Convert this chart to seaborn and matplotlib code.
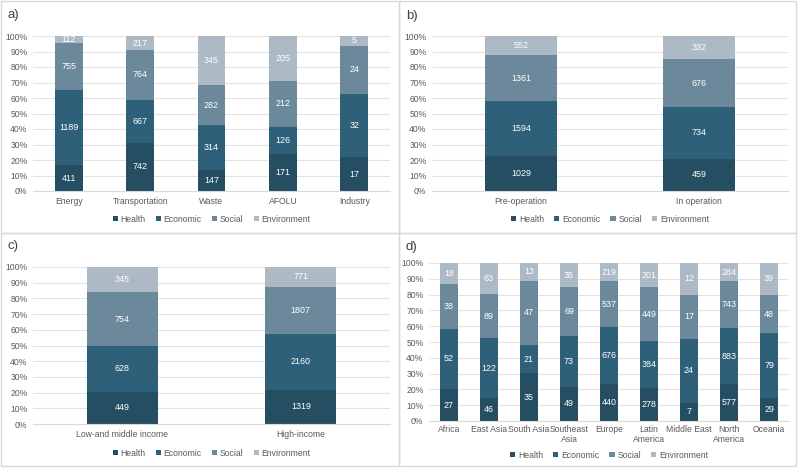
import numpy as np
import pandas as pd
import matplotlib
matplotlib.use("Agg")
import matplotlib.pyplot as plt
from matplotlib.patches import Rectangle, Patch
from matplotlib.ticker import PercentFormatter
import seaborn as sns

sns.set_theme(style="white")
plt.rcParams['font.family'] = ['Liberation Sans', 'DejaVu Sans']

# ---- data ----
dims = ["Health", "Economic", "Social", "Environment"]
colors = ["#264e63", "#2e6079", "#6c899b", "#adbac5"]

cats_a = ["Energy", "Transportation", "Waste", "AFOLU", "Industry"]
health_a = [411, 742, 147, 171, 17]
econ_a = [1189, 667, 314, 126, 32]
social_a = [755, 764, 282, 212, 24]
env_a = [112, 217, 345, 205, 5]

cats_b = ["Pre-operation", "In operation"]
health_b = [1029, 459]
econ_b = [1594, 734]
social_b = [1361, 676]
env_b = [552, 332]

cats_c = ["Low-and middle income", "High-income"]
health_c = [449, 1319]
econ_c = [628, 2160]
social_c = [754, 1807]
env_c = [345, 771]

cats_d = ["Africa", "East Asia", "South Asia", "Southeast\nAsia", "Europe",
          "Latin\nAmerica", "Middle East", "North\nAmerica", "Oceania"]
health_d = [27, 46, 35, 49, 440, 278, 7, 577, 29]
econ_d = [52, 122, 21, 73, 676, 384, 24, 883, 79]
social_d = [38, 89, 47, 69, 537, 449, 17, 743, 48]
env_d = [18, 63, 13, 35, 219, 201, 12, 284, 39]

W, H = 800, 470
fig = plt.figure(figsize=(W / 100, H / 100), dpi=100)

TXT = "#595959"
FS = 6.2


def fx(px):
    return px / W


def fy(py):
    return 1 - py / H


def make_ax(l, t, r, b):
    return fig.add_axes([fx(l), fy(b), fx(r - l), fy(t) - fy(b)])


def draw_panel(ax, cats, series, width, legend_y):
    df = pd.DataFrame({d: s for d, s in zip(dims, series)}, index=cats)
    totals = df.sum(axis=1)
    pct = df.div(totals, axis=0) * 100
    bottom = np.zeros(len(cats))
    for d, c in zip(dims, colors):
        sub = pd.DataFrame({"cat": cats, "pct": pct[d].values})
        sns.barplot(data=sub, x="cat", y="pct", order=cats, color=c,
                    width=width, errorbar=None, ax=ax, bottom=bottom.copy(),
                    saturation=1, linewidth=0, label=d)
        ax.bar_label(ax.containers[-1], labels=[str(v) for v in df[d].values],
                     label_type="center", color="white", fontsize=FS + 0.2)
        bottom = bottom + pct[d].values
    ax.set_ylim(0, 100)
    ax.set_xlim(-0.5, len(cats) - 0.5)
    ax.set_yticks(np.arange(0, 101, 10))
    ax.yaxis.set_major_formatter(PercentFormatter(decimals=0))
    ax.grid(axis="y", color="#e3e3e3", linewidth=0.8)
    ax.set_axisbelow(True)
    for s in ["top", "right", "left"]:
        ax.spines[s].set_visible(False)
    ax.spines["bottom"].set_color("#d9d9d9")
    ax.spines["bottom"].set_linewidth(0.8)
    ax.tick_params(axis="both", length=0, labelsize=FS, colors=TXT, pad=4)
    ax.set_xlabel("")
    ax.set_ylabel("")
    handles = [Patch(facecolor=c, edgecolor="none") for c in colors]
    ax.legend(handles, dims, loc="center", bbox_to_anchor=(0.5, legend_y),
              ncol=4, frameon=False, fontsize=FS, handlelength=0.6,
              handleheight=0.6, handletextpad=0.3, columnspacing=1.2,
              labelcolor=TXT, borderaxespad=0)


ax_a = make_ax(33, 36, 390, 191)
draw_panel(ax_a, cats_a, [health_a, econ_a, social_a, env_a], 0.39,
           -(219 - 191) / (191 - 36))
ax_b = make_ax(432, 36, 788, 191)
draw_panel(ax_b, cats_b, [health_b, econ_b, social_b, env_b], 0.40,
           -(219 - 191) / (191 - 36))
ax_c = make_ax(33, 267, 390, 424)
draw_panel(ax_c, cats_c, [health_c, econ_c, social_c, env_c], 0.40,
           -(453 - 424) / (424 - 267))
ax_d = make_ax(429, 263, 789, 421)
draw_panel(ax_d, cats_d, [health_d, econ_d, social_d, env_d], 0.43,
           -(455 - 421) / (421 - 263))
for lab in ax_d.get_xticklabels():
    lab.set_linespacing(1.1)
ax_d.tick_params(axis="x", pad=3)

# panel labels
for txt, x, y in [("a)", 8, 15), ("b)", 406, 16), ("c)", 8, 246), ("d)", 406, 247)]:
    fig.text(fx(x), fy(y), txt, fontsize=9.5, color="#404040", va="center", ha="left")

# panel borders
for (l, t, r, b) in [(1, 1, 399, 233), (399, 1, 796, 233), (1, 233, 399, 466), (399, 233, 796, 466)]:
    fig.add_artist(Rectangle((fx(l), fy(b)), fx(r - l), fy(t) - fy(b),
                             transform=fig.transFigure, fill=False,
                             edgecolor="#d9d9d9", linewidth=1))

fig.savefig("out.png", dpi=100)
